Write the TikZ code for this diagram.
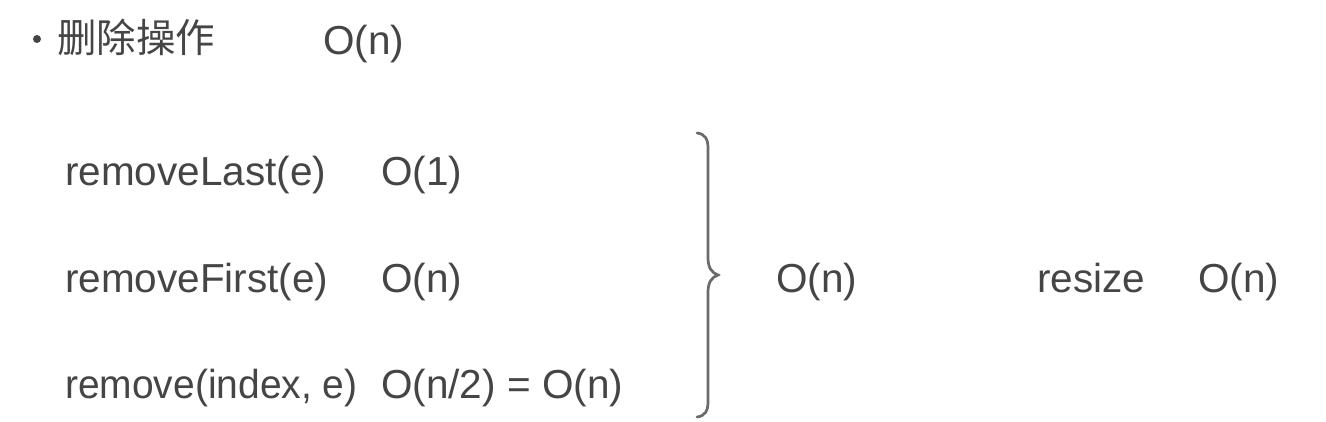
\documentclass[tikz,border=0pt]{standalone}
\usepackage{fontspec}
\setmainfont{Liberation Sans}
\newfontfamily\cjk{Noto Sans CJK SC}
\definecolor{txt}{HTML}{454545}
\definecolor{brc}{HTML}{6A6A6A}
\begin{document}
\begin{tikzpicture}[x=1pt,y=-1pt,
  lbl/.style={anchor=base west,inner sep=0pt,text=txt,font=\fontsize{40.5}{48}\selectfont},
  cjklbl/.style={anchor=base west,inner sep=0pt,text=txt,font=\cjk\fontsize{39.5}{48}\selectfont}]
\useasboundingbox (0,0) rectangle (1326,422);
\fill[white] (0,0) rectangle (1326,422);
% title line
\node[circle,fill=txt,inner sep=0pt,minimum size=8pt] (bul) at (37,39) {};
\node[cjklbl] (title) at (57,53) {删除操作};
\node[lbl] (tO) at (323,55) {O(n)};
% rows
\node[lbl] (r1) at (65,186) {removeLast(e)};
\node[lbl] (c1) at (381,186) {O(1)};
\node[lbl] (r2) at (65,292) {removeFirst(e)};
\node[lbl] (c2) at (381,292) {O(n)};
\node[lbl] (r3) at (65,398) {\scalebox{0.962}[1]{remove(index, e)}};
\node[lbl] (c3) at (381,398) {O(n/2) = O(n)};
% brace
\draw[brc,line width=2.7pt,line cap=round]
  (697,133) .. controls (705,134) and (708,139) .. (708,148)
  -- (708,258) .. controls (708,268) and (712,273) .. (718,275)
  .. controls (712,277) and (708,282) .. (708,292)
  -- (708,402) .. controls (708,411) and (705,416) .. (697,417);
% right side
\node[lbl] (mid) at (776,292) {O(n)};
\node[lbl] (rs) at (1037,292) {resize};
\node[lbl] (rO) at (1198,292) {O(n)};
\end{tikzpicture}
\end{document}
